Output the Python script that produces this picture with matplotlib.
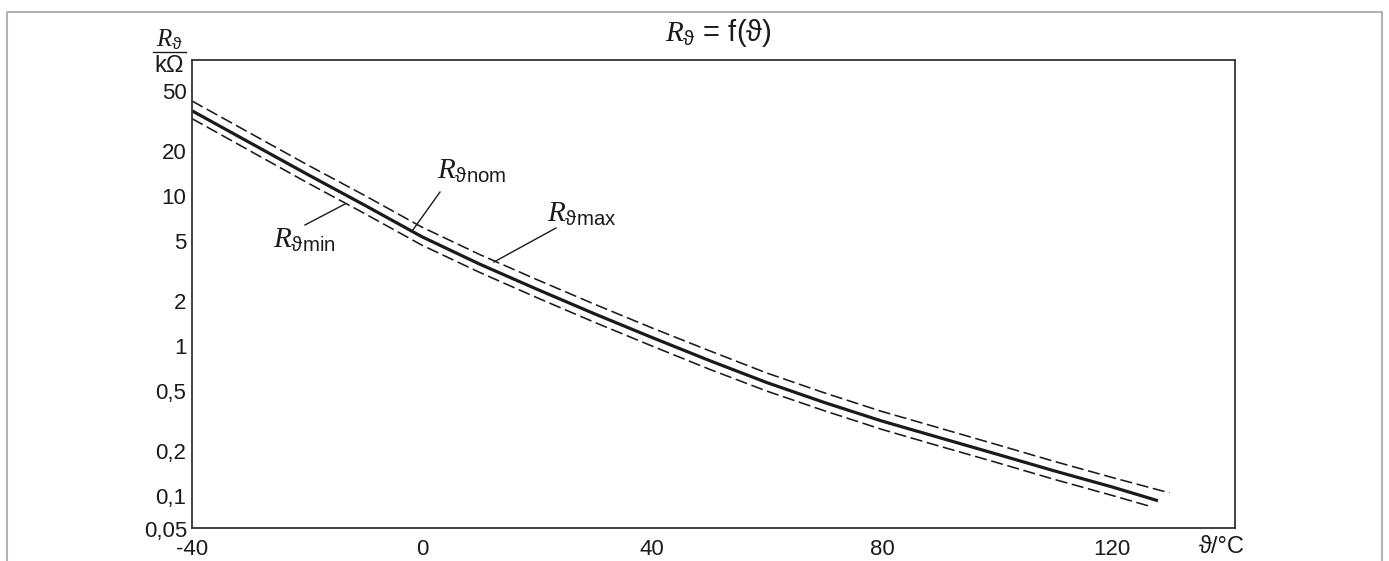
import matplotlib
matplotlib.use("Agg")
import matplotlib.pyplot as plt
from matplotlib.lines import Line2D

plt.rcParams.update({
    "font.family": ["Liberation Sans", "DejaVu Sans"],
    "mathtext.fontset": "custom",
    "mathtext.it": "Liberation Serif:italic",
    "mathtext.rm": "Liberation Sans",
    "mathtext.sf": "Liberation Sans",
})

# values (resistance in kOhm vs temperature in degC)
temp_nom = [-40, -20, -10, 0, 10, 20, 30, 40, 50, 60, 70, 80, 90, 100, 110, 120, 128]
r_nom = [37, 14.0, 8.7, 5.35, 3.52, 2.39, 1.64, 1.14, 0.80, 0.57, 0.42, 0.316, 0.245,
         0.19, 0.147, 0.115, 0.093]
temp_max = [-40, -20, -10, 0, 10, 20, 30, 40, 50, 60, 70, 80, 90, 100, 110, 120, 130]
r_max = [43, 16.2, 10.1, 6.2, 4.08, 2.77, 1.9, 1.32, 0.93, 0.66, 0.487, 0.366, 0.284,
         0.22, 0.17, 0.133, 0.105]
temp_min = [-40, -20, -10, 0, 10, 20, 30, 40, 50, 60, 70, 80, 90, 100, 110, 120, 127]
r_min = [32.8, 12.3, 7.65, 4.7, 3.1, 2.1, 1.44, 1.0, 0.70, 0.5, 0.37, 0.278, 0.215,
         0.167, 0.129, 0.101, 0.0845]

xticks = [-40, 0, 40, 80, 120]
yticks = [0.1, 0.2, 0.5, 1, 2, 5, 10, 20, 50]
ylabels = ["0,1", "0,2", "0,5", "1", "2", "5", "10", "20", "50"]

W, H = 1389, 561
fig = plt.figure(figsize=(W / 100, H / 100), dpi=100)
ax = fig.add_axes([192 / W, 1 - 528 / H, (1235 - 192) / W, (528 - 60) / H])
ax.set_yscale("log")
ax.set_xlim(-40, 141.4)
ax.set_ylim(0.0612, 80.7)

ink = "#1a1a1a"
ax.plot(temp_nom, r_nom, color=ink, lw=2.3, solid_capstyle="butt", solid_joinstyle="round")
for t, r in [(temp_max, r_max), (temp_min, r_min)]:
    ln, = ax.plot(t, r, color=ink, lw=1.15)
    ln.set_dashes((7.6, 2.9))

ax.set_xticks(xticks)
ax.set_xticklabels([str(v) for v in xticks])
ax.set_yticks(yticks)
ax.set_yticklabels(ylabels)
ax.minorticks_off()
ax.tick_params(axis="both", length=0, labelsize=16, colors=ink)
ax.tick_params(axis="y", pad=4)
ax.tick_params(axis="x", pad=8)
for s in ax.spines.values():
    s.set_color("#333333"); s.set_linewidth(1.3)

ax.annotate("0,05", xy=(0, 0), xycoords="axes fraction", xytext=(-5, -4),
            textcoords="offset pixels", ha="right", va="center", fontsize=16, color=ink)
ax.annotate("ϑ/°C", xy=(1, 0), xycoords="axes fraction", xytext=(-13, -19),
            textcoords="offset pixels", ha="center", va="center", fontsize=17, color=ink)

# curve labels with leader lines
lab = dict(fontsize=21, color=ink, va="baseline", ha="left")
ax.text(2.6, 12.98, r"$R_{\mathrm{ϑnom}}$", **lab)
ax.text(21.7, 6.71, r"$R_{\mathrm{ϑmax}}$", **lab)
ax.text(-25.9, 4.5, r"$R_{\mathrm{ϑmin}}$", **lab)
lk = dict(color=ink, lw=1.0)
ax.plot([3.13, -1.57], [10.63, 5.95], **lk)
ax.plot([23.3, 12.5], [6.12, 3.63], **lk)
ax.plot([-20.35, -13.4], [6.41, 8.84], **lk)

# title and unit label
fig.text(718 / W, 1 - 33 / H, r"$R_{\mathrm{ϑ}}$ = f(ϑ)", ha="center", va="center",
         fontsize=21, color=ink)
fig.text(169 / W, 1 - 40 / H, r"$R_{\mathrm{ϑ}}$", ha="center", va="center", fontsize=18, color=ink)
fig.text(169 / W, 1 - 66 / H, "kΩ", ha="center", va="center", fontsize=17, color=ink)
fig.add_artist(Line2D([153 / W, 186 / W], [1 - 52 / H] * 2, color=ink, lw=1.0))

# outer grey frame (open at the bottom)
fr = dict(color="#b3b3b3", lw=1.5)
fig.add_artist(Line2D([7 / W, 7 / W, 1382 / W, 1382 / W], [0, 1 - 12 / H, 1 - 12 / H, 0], **fr))

fig.savefig("out.png", dpi=100)
